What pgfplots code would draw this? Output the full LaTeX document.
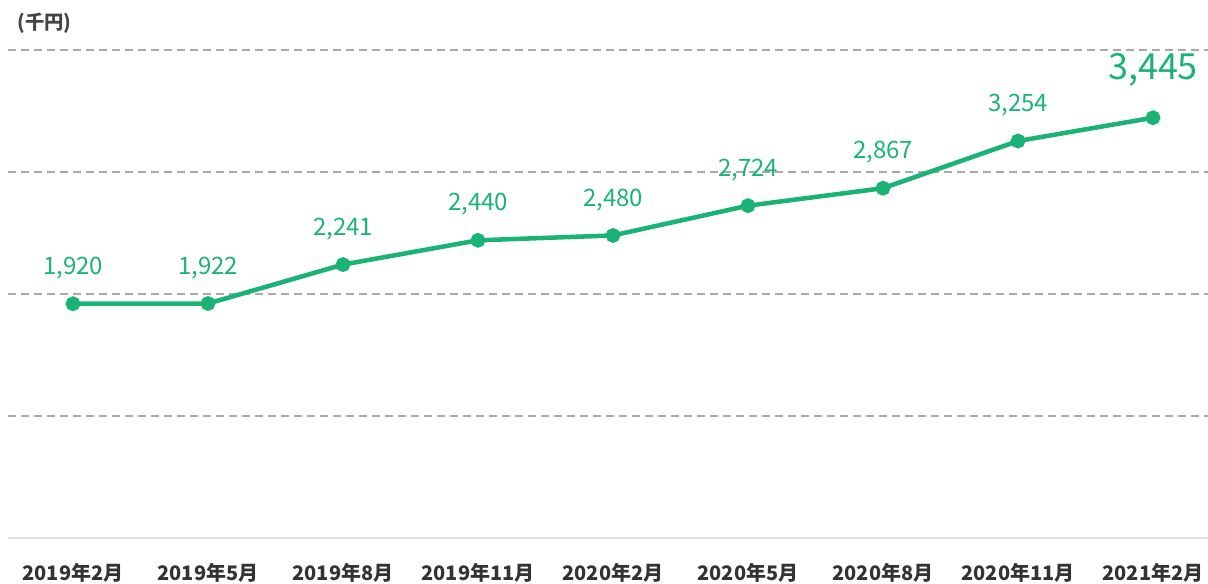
\documentclass[border=0pt]{standalone}
\usepackage{pgfplots}
\pgfplotsset{compat=1.18}
\usepackage{fontspec}
\setmainfont{Noto Sans CJK JP}
\definecolor{grn}{RGB}{27,179,117}
\definecolor{gridgray}{RGB}{170,170,170}
\definecolor{basegray}{RGB}{225,225,225}
\definecolor{txtgray}{RGB}{51,51,51}
\begin{document}
\begin{tikzpicture}
\begin{axis}[
 at={(0,0)}, anchor=south west,
 scale only axis, width=900pt, height=366pt,
 xmin=-0.4815, xmax=8.4074, ymin=0, ymax=4000,
 axis line style={draw=none},
 major tick style={draw=none},
 xtick={0,...,8},
 xticklabels={2019年2月,2019年5月,2019年8月,2019年11月,2020年2月,2020年5月,2020年8月,2020年11月,2021年2月},
 xticklabel style={anchor=base, yshift=-32pt, font=\fontsize{15}{18}\selectfont\bfseries, text=txtgray},
 ytick={1000,2000,3000,4000}, yticklabels={},
 ymajorgrids, major grid style={dash pattern=on 6pt off 3.75pt, line width=1.2pt, gridgray},
 extra y ticks={0}, extra y tick labels={},
 extra y tick style={ymajorgrids=true, major grid style={solid, basegray, line width=1.5pt}},
 clip=false,
 /pgf/number format/.cd, fixed, precision=0, 1000 sep={,}, assume math mode=true,
]
\addplot[grn, line width=3.4pt, mark=*, mark size=3.8pt, mark options={solid, fill=grn}]
 coordinates {(0,1920)(1,1922)(2,2241)(3,2440)(4,2480)(5,2724)(6,2867)(7,3254)(8,3445)};
\addplot[draw=none, mark=none, nodes near coords,
 every node near coord/.append style={anchor=base, yshift=22pt, font=\fontsize{18}{20}\selectfont, text=grn}]
 coordinates {(0,1920)(1,1922)(2,2241)(3,2440)(4,2480)(5,2724)(6,2867)(7,3254)};
\addplot[draw=none, mark=none, nodes near coords,
 every node near coord/.append style={anchor=base, yshift=29pt, font=\fontsize{27}{30}\selectfont, text=grn}]
 coordinates {(8,3445)};
\end{axis}
\node[anchor=center, text={rgb,255:red,68;green,68;blue,68}, font=\fontsize{14.5}{16}\selectfont\bfseries] at (27.5pt,386pt) {(千円)};
\pgfresetboundingbox
\path[use as bounding box] (-6pt,-33.75pt) rectangle (900pt,403.5pt);
\end{tikzpicture}
\end{document}
